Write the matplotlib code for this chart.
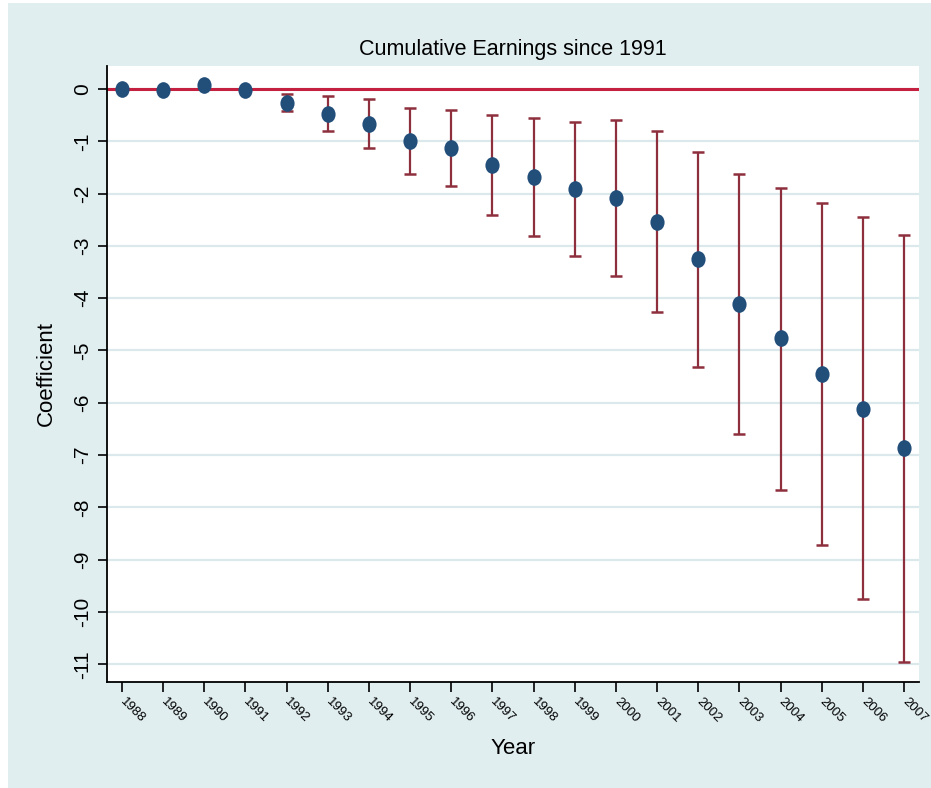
import numpy as np
import matplotlib
matplotlib.use("Agg")
import matplotlib.pyplot as plt
from matplotlib.patches import Rectangle
from matplotlib.path import Path
from matplotlib.transforms import Affine2D

# event-study coefficients with 95% confidence bounds
years = [1988, 1989, 1990, 1991, 1992, 1993, 1994, 1995, 1996, 1997,
         1998, 1999, 2000, 2001, 2002, 2003, 2004, 2005, 2006, 2007]
coef = [0.0, -0.01, 0.07, -0.02, -0.26, -0.47, -0.66, -0.99, -1.13, -1.45,
        -1.68, -1.91, -2.08, -2.54, -3.26, -4.11, -4.77, -5.45, -6.11, -6.87]
ci_upper = [None, None, None, None, -0.10, -0.13, -0.19, -0.36, -0.40, -0.50,
            -0.55, -0.64, -0.59, -0.80, -1.20, -1.62, -1.89, -2.18, -2.44, -2.79]
ci_lower = [None, None, None, None, -0.42, -0.80, -1.13, -1.62, -1.86, -2.41,
            -2.81, -3.19, -3.58, -4.27, -5.31, -6.60, -7.66, -8.72, -9.76, -10.95]
yticks = list(range(0, -12, -1))

bg = "#e1eef0"
grid_col = "#dbe9ec"
bar_col = "#8e2f3d"
dot_col = "#224e7a"
zero_col = "#c3213f"

plt.rcParams["font.family"] = ["Liberation Sans", "DejaVu Sans"]

fig = plt.figure(figsize=(9.31, 7.88), dpi=100, facecolor="white")
fig.add_artist(Rectangle((8 / 931, 0), 1, 785 / 788, transform=fig.transFigure,
                         facecolor=bg, edgecolor="none", zorder=-10))

ax = fig.add_axes([107 / 931, 106 / 788, 812 / 931, 616 / 788])
ax.set_facecolor("white")

# only years after the event get confidence intervals
err_years = [y for y, u in zip(years, ci_upper) if u is not None]
err_coef = [c for c, u in zip(coef, ci_upper) if u is not None]
lo = [c - l for c, l in zip(coef, ci_lower) if l is not None]
hi = [u - c for c, u in zip(coef, ci_upper) if u is not None]

ax.axhline(0, color=zero_col, lw=2.2, zorder=2)
ax.errorbar(err_years, err_coef, yerr=[lo, hi], fmt="none", ecolor=bar_col,
            elinewidth=1.6, capsize=4.3, capthick=1.8, zorder=3)

# slightly tall oval marker
oval = Path.unit_circle().transformed(Affine2D().scale(0.85, 1.0))
ax.plot(years, coef, linestyle="none", marker=oval, markersize=12,
        color=dot_col, markeredgewidth=0, zorder=4)

ax.set_xlim(1987.64, 2007.36)
ax.set_ylim(-11.34, 0.44)
ax.set_yticks(yticks)
ax.set_yticklabels([str(v) for v in yticks], rotation=90, va="center", fontsize=15)
ax.set_xticks(years)
ax.set_xticklabels([str(y) for y in years], rotation=-45, rotation_mode="anchor",
                   ha="left", va="center", fontsize=9.5)

ax.grid(axis="y", color=grid_col, lw=1.6, zorder=1)
ax.grid(axis="x", visible=False)
ax.set_axisbelow(True)

for side in ["top", "right"]:
    ax.spines[side].set_visible(False)
for side in ["left", "bottom"]:
    ax.spines[side].set_linewidth(1.3)
    ax.spines[side].set_color("black")

ax.tick_params(axis="y", length=6.5, width=1.2, pad=4)
ax.tick_params(axis="x", length=7, width=1.2, pad=6)

ax.set_title("Cumulative Earnings since 1991", fontsize=15.5, pad=8)
ax.set_xlabel("Year", fontsize=16, labelpad=9)
ax.set_ylabel("Coefficient", fontsize=16, labelpad=12)

fig.savefig("out.png", dpi=100, facecolor=fig.get_facecolor())
